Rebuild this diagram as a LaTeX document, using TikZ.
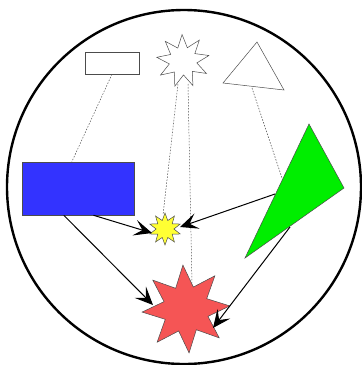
\documentclass[tikz,border=0pt]{standalone}
\usetikzlibrary{shapes.geometric,arrows.meta,calc}
\definecolor{myblue}{HTML}{3333FF}
\definecolor{mygreen}{HTML}{00EE00}
\definecolor{myred}{HTML}{F55555}
\definecolor{myyellow}{HTML}{FFFF33}
\tikzset{
  edge/.style={draw=black!70, line width=0.5pt},
  dotline/.style={draw=black!70, line width=0.5pt, dash pattern=on 1.5pt off 1.5pt},
  arr/.style={draw=black, line width=1pt, -{Stealth[length=18pt,width=16pt,inset=8pt]}},
}
\begin{document}
\begin{tikzpicture}[x=1pt,y=-1pt]
\useasboundingbox (0,0) rectangle (362,365);
\node[draw=black, line width=2.4pt, circle, minimum size=354pt, inner sep=0pt] (ring) at (184,187) {};
% top row
\node[rectangle, edge, minimum width=54pt, minimum height=22pt, inner sep=0pt] (srect) at (112,63) {};
\node[star, star points=9, star point ratio=1.9, edge, minimum size=53pt, inner sep=0pt, shape border rotate=2] (wstar) at (183,61) {};
\draw[edge] (257,42) coordinate (t1) -- (284,90) coordinate (t2) -- (223,83) coordinate (t3) -- cycle;
\coordinate (wtri) at (252,88);
% middle
\node[rectangle, edge, fill=myblue, minimum width=112pt, minimum height=53pt, inner sep=0pt] (blue) at (78,188.5) {};
\draw[edge, fill=mygreen] (309,124) coordinate (g1) -- (344,188) coordinate (g2) -- (245,258) coordinate (g3) -- cycle;
\coordinate (gA) at (282,178);
\coordinate (gB) at (275,194);
\coordinate (gC) at (290,227);
\node[star, star points=10, star point ratio=1.8, edge, fill=myyellow, minimum size=32pt, inner sep=0pt] (ystar) at (165,229) {};
% bottom
\node[star, star points=8, star point ratio=1.9, edge, fill=myred, minimum size=88pt, inner sep=0pt, shape border rotate=4] (rstar) at (186,309) {};
% dotted connectors
\draw[dotline] (srect.south) -- (blue.103);
\draw[dotline] ($(wstar)+(-5,23)$) -- ($(ystar)+(-2,-14)$);
\draw[dotline] ($(wstar)+(5,23)$) -- ($(rstar)+(6,-25)$);
\draw[dotline] (wtri) -- (gA);
% arrows
\draw[arr] (blue.-60) -- ($(ystar)+(-13,4)$);
\draw[arr] (gB) -- ($(ystar)+(15,-2)$);
\draw[arr] (blue.-118) -- ($(rstar)+(-33,-4)$);
\draw[arr] (gC) -- ($(rstar)+(27,19)$);
\end{tikzpicture}
\end{document}
